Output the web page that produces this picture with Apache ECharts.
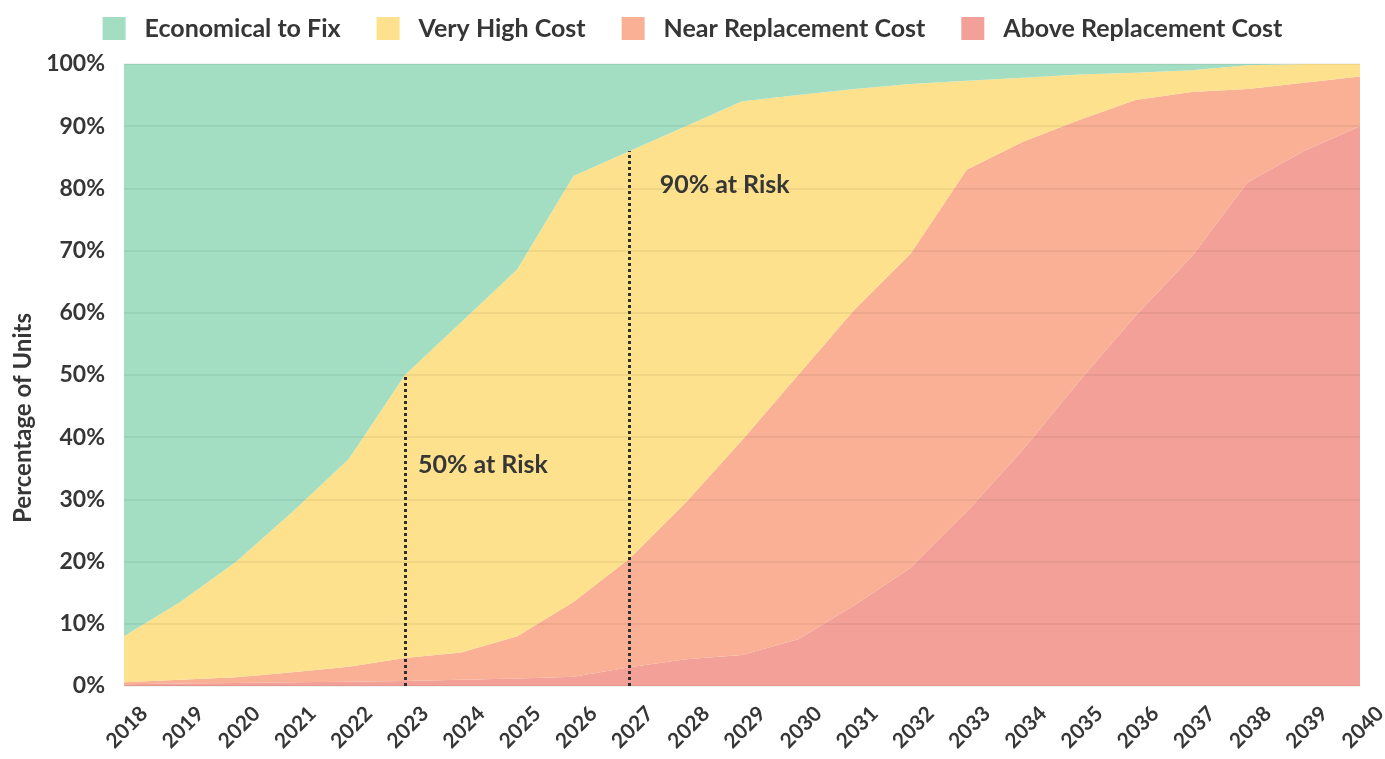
<!DOCTYPE html>
<html>
<head>
<meta charset="utf-8">
<title>Percentage of Units by Repair Cost</title>
<script src="https://cdn.jsdelivr.net/npm/echarts@6/dist/echarts.min.js"></script>
<style>
  html, body { margin: 0; padding: 0; background: #ffffff; }
  #chart { width: 1385px; height: 759px; }
</style>
</head>
<body>
<div id="chart"></div>
<script>
// Years on the horizontal axis
const years = ['2018','2019','2020','2021','2022','2023','2024','2025','2026','2027','2028',
  '2029','2030','2031','2032','2033','2034','2035','2036','2037','2038','2039','2040'];

// Share of units (%) in each cost band, per year
const aboveReplacement = [0.3,0.4,0.5,0.6,0.7,0.8,1.0,1.2,1.5,3.0,4.3,5.0,7.5,13,19,28,38,49,59.5,69,81,86,90];
const nearReplacement  = [0.3,0.6,0.9,1.6,2.4,3.7,4.4,6.8,12.0,17.5,25.2,34.5,42.5,47.5,50.5,55,49.5,42,34.7,26.5,15,11,8];
const veryHighCost     = [7.4,12.5,18.6,25.8,33.4,45.5,53.1,59,68.5,65.5,60.5,54.5,45,35.5,27.3,14.3,10.3,7.3,4.4,3.5,3.8,3,2];
const economicalToFix  = [92,86.5,80,72,63.5,50,41.5,33,18,14,10,6,5,4,3.2,2.7,2.2,1.7,1.4,1.0,0.2,0,0];

// Y-axis tick values (percent)
const yTicks = [0,10,20,30,40,50,60,70,80,90,100];

// Years marked with a dotted "at risk" line, and their annotation text
const riskYears  = ['2023', '2027'];
const riskLabels = ['50% at Risk', '90% at Risk'];

const seriesNames = ['Above Replacement Cost', 'Near Replacement Cost', 'Very High Cost', 'Economical to Fix'];
const seriesData  = [aboveReplacement, nearReplacement, veryHighCost, economicalToFix];
const seriesColors = ['#f2a098', '#f9b094', '#fde18c', '#a3dec2'];

const FONT = 'Lato, "Noto Sans", sans-serif';
const TEXT = '#363636';

// Share of units at risk (every band except "Economical to Fix") in a given year
function atRisk(year) {
  const i = years.indexOf(year);
  return +(aboveReplacement[i] + nearReplacement[i] + veryHighCost[i]).toFixed(1);
}

const series = seriesNames.map((name, k) => ({
  name: name,
  type: 'line',
  stack: 'units',
  data: seriesData[k],
  symbol: 'none',
  smooth: false,
  lineStyle: { width: 0 },
  areaStyle: { color: seriesColors[k], opacity: 1 },
  itemStyle: { color: seriesColors[k] },
  z: 2
}));

// Dotted lines and labels sit on the top-most series so they draw above every band
series[3].markLine = {
  silent: true,
  symbol: 'none',
  label: { show: false },
  lineStyle: { color: '#2e2e2e', width: 3, type: [3, 3], opacity: 1 },
  data: riskYears.map(y => [{ coord: [y, 0] }, { coord: [y, atRisk(y)] }])
};
series[3].markPoint = {
  silent: true,
  symbol: 'circle',
  symbolSize: 0,
  data: [
    { coord: [riskYears[0], 35.5], label: { formatter: riskLabels[0], offset: [13, 0] } },
    { coord: [riskYears[1], 80.6], label: { formatter: riskLabels[1], offset: [30, 0] } }
  ],
  label: {
    show: true,
    position: 'right',
    distance: 0,
    color: TEXT,
    fontFamily: FONT,
    fontWeight: 'bold',
    fontSize: 25
  }
};

const chart = echarts.init(document.getElementById('chart'), null, { renderer: 'canvas' });
chart.setOption({
  backgroundColor: '#ffffff',
  animation: false,
  legend: {
    top: 11,
    left: 'center',
    data: ['Economical to Fix', 'Very High Cost', 'Near Replacement Cost', 'Above Replacement Cost'],
    icon: 'rect',
    itemWidth: 23,
    itemHeight: 23,
    itemGap: 36,
    textStyle: {
      color: TEXT,
      fontFamily: FONT,
      fontWeight: 'bold',
      fontSize: 25,
      padding: [0, 0, 0, 14]
    }
  },
  grid: {
    left: 124, right: 25, top: 64, bottom: 73,
    containLabel: false,
    outerBoundsMode: 'none'
  },
  xAxis: {
    type: 'category',
    data: years,
    boundaryGap: false,
    axisLine: { show: false },
    axisTick: { show: false },
    splitLine: { show: false },
    axisLabel: {
      interval: 0,
      rotate: 45,
      margin: 4,
      verticalAlign: 'top',
      padding: [18, 0, 0, 0],
      color: TEXT,
      fontFamily: FONT,
      fontWeight: 'bold',
      fontSize: 21
    }
  },
  yAxis: {
    type: 'value',
    min: yTicks[0],
    max: yTicks[yTicks.length - 1],
    interval: 10,
    z: 5,
    name: 'Percentage of Units',
    nameLocation: 'middle',
    nameRotate: 90,
    nameGap: 88,
    nameTextStyle: {
      color: TEXT,
      fontFamily: FONT,
      fontWeight: 'bold',
      fontSize: 24,
      padding: [0, 86, 0, 0]
    },
    axisLine: { show: false },
    axisTick: { show: false },
    splitLine: { show: true, lineStyle: { color: 'rgba(0,0,0,0.07)', width: 1.5 } },
    axisLabel: {
      margin: 19,
      color: TEXT,
      fontFamily: FONT,
      fontWeight: 'bold',
      fontSize: 23,
      formatter: v => v + '%'
    }
  },
  series: series
});
</script>
</body>
</html>
